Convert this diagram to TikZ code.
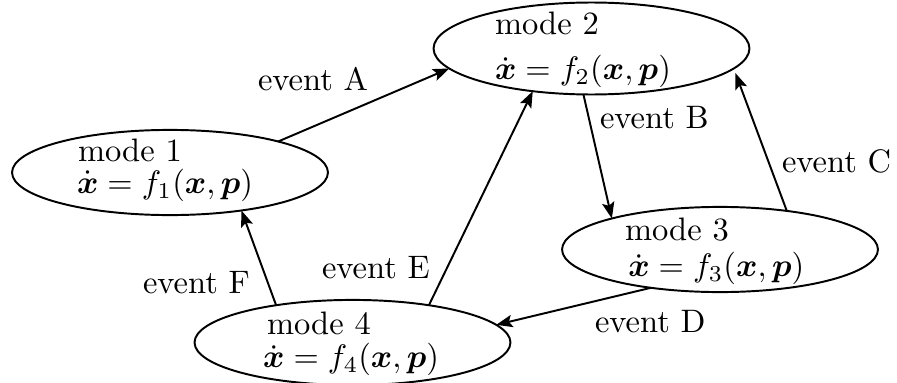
\documentclass[tikz,border=0pt]{standalone}
\usepackage{amsmath}
\usetikzlibrary{arrows.meta,shapes.geometric}
\begin{document}
\begin{tikzpicture}[x=0.3077pt,y=-0.3077pt,
  modebox/.style={draw,ellipse,line width=0.6pt,minimum width=97.2pt,minimum height=26.2pt,inner sep=0pt,outer sep=0pt},
  modetext/.style={anchor=north west,align=left,inner sep=0pt,outer sep=0pt},
  txt/.style={anchor=base west,inner sep=0pt,outer sep=0pt},
  trans/.style={draw,line width=0.6pt,-{Stealth[length=5pt,width=3.8pt,inset=1pt]}}]
\useasboundingbox (0,0) rectangle (897,382);
% modes
\node[modebox] (m1) at (170,172.5) {};
\node[modebox,minimum height=28.3pt] (m2) at (591.5,48.5) {};
\node[modebox] (m3) at (720,249.5) {};
\node[modebox] (m4) at (352.5,342.5) {};
% texts
\node[modetext] (m1t) at (78,139.1) {mode 1\\[-2.28pt]\hspace*{-0.3pt}$\dot{\boldsymbol{x}} = f_1(\boldsymbol{x},\boldsymbol{p})$};
\node[modetext] (m2t) at (495,12.4) {mode 2\\[1.85pt]$\dot{\boldsymbol{x}} = f_2(\boldsymbol{x},\boldsymbol{p})$};
\node[modetext] (m3t) at (625,218.4) {mode 3\\[-0.92pt]\hspace*{1pt}$\dot{\boldsymbol{x}} = f_3(\boldsymbol{x},\boldsymbol{p})$};
\node[modetext] (m4t) at (267,312.4) {mode 4\\[-1.85pt]\hspace*{-1.2pt}$\dot{\boldsymbol{x}} = f_4(\boldsymbol{x},\boldsymbol{p})$};
% transitions
\draw[trans] (m1.16) -- (m2.188);
\draw[trans] (m2.260) -- (m3.164);
\draw[trans,shorten >=1.5pt] (m3.30) -- (m2.352);
\draw[trans] (m3.209) -- (m4.7);
\draw[trans] (m4.26) -- (m2.216);
\draw[trans] (m4.154) -- (m1.332);
% labels
\node[txt] (la) at (258,90) {event A};
\node[txt] (lb) at (600,128) {event B};
\node[txt] (lc) at (782,172) {event C};
\node[txt] (ld) at (595,332) {event D};
\node[txt] (le) at (322,278.5) {event E};
\node[txt] (lf) at (143,293) {event F};
\end{tikzpicture}
\end{document}
